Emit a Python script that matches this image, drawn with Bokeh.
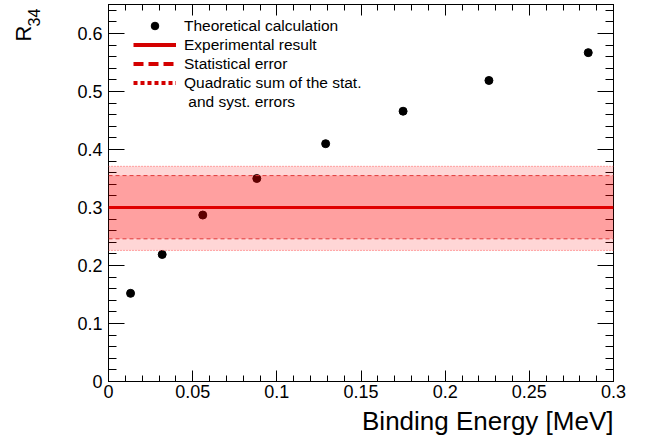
import math
from bokeh.plotting import figure
from bokeh.layouts import row
from bokeh.models import (Range1d, FixedTicker, LinearAxis, BoxAnnotation, Span, Title, Label,
                          Legend, LegendItem, CustomJSTickFormatter, ColumnDataSource)
from bokeh.embed import file_html
from bokeh.resources import INLINE

# ---- data ----
binding_energy = [0.0131, 0.0319, 0.0560, 0.0881, 0.1290, 0.1750, 0.2260, 0.2850]
r34_theory = [0.152, 0.219, 0.287, 0.350, 0.410, 0.466, 0.519, 0.567]
exp_value = 0.300
stat_low, stat_high = 0.246, 0.355
tot_low, tot_high = 0.226, 0.371
x_min, x_max = 0.0, 0.3
y_min, y_max = 0.0, 0.65
x_ticks = [0.0, 0.05, 0.10, 0.15, 0.20, 0.25, 0.30]
y_ticks = [0.0, 0.1, 0.2, 0.3, 0.4, 0.5, 0.6]
x_minor_step = 0.01
y_minor_step = 0.02

FONT = "Liberation Sans"
RED = "#d40000"

x_minor = [round(i * x_minor_step, 4) for i in range(int(round(x_max / x_minor_step)) + 1)]
y_minor = [round(i * y_minor_step, 4) for i in range(int(round(y_max / y_minor_step)) + 1)]

H = 441
LEFT_W = 45

p = figure(frame_width=505, frame_height=377,
           x_range=Range1d(x_min, x_max), y_range=Range1d(y_min, y_max),
           output_backend="svg", toolbar_location=None,
           min_border_left=108 - LEFT_W, min_border_right=40, min_border_top=4,
           min_border_bottom=H - 4 - 377)
p.grid.visible = False
p.outline_line_color = "black"
p.background_fill_color = "white"
p.border_fill_color = "white"

fmt = CustomJSTickFormatter(code="return String(Number(tick.toFixed(6)));")

def style_axis(ax, tick_in, minor_in, labels=True, standoff=5):
    ax.major_tick_in = tick_in
    ax.major_tick_out = 0
    ax.minor_tick_in = minor_in
    ax.minor_tick_out = 0
    ax.axis_line_color = "black"
    ax.major_tick_line_color = "black"
    ax.minor_tick_line_color = "black"
    ax.major_label_text_font = FONT
    if labels:
        ax.major_label_text_font_size = "18px"
        ax.major_label_text_color = "black"
        ax.major_label_standoff = standoff
        ax.formatter = fmt
    else:
        ax.major_label_text_font_size = "1px"
        ax.major_label_text_color = None
        ax.major_label_standoff = 0

xt = FixedTicker(ticks=x_ticks, minor_ticks=x_minor)
yt = FixedTicker(ticks=y_ticks, minor_ticks=y_minor)

p.xaxis.ticker = xt
p.yaxis.ticker = yt
style_axis(p.xaxis[0], 11, 6, True, 3)
style_axis(p.yaxis[0], 16, 8, True, 6)

top_ax = LinearAxis(ticker=xt)
style_axis(top_ax, 11, 6, False)
p.add_layout(top_ax, "above")
right_ax = LinearAxis(ticker=yt)
style_axis(right_ax, 16, 8, False)
p.add_layout(right_ax, "right")

# x axis title, right aligned
x_title = Title(text="Binding Energy [MeV]", align="right", text_font=FONT,
                text_font_size="26px", text_font_style="normal", text_color="black",
                standoff=6)
p.add_layout(x_title, "below")

# theory points
r_pts = p.scatter(binding_energy, r34_theory, size=8, color="black")

# error bands (drawn over points, translucent)
p.add_layout(BoxAnnotation(bottom=tot_low, top=tot_high, fill_color="red", fill_alpha=0.16,
                           line_alpha=0))
p.add_layout(BoxAnnotation(bottom=stat_low, top=stat_high, fill_color="red", fill_alpha=0.25,
                           line_alpha=0))
for v in (stat_low, stat_high):
    p.add_layout(Span(location=v, dimension="width", line_color="#e03a3a", line_width=1,
                      line_dash="4 3"))
for v in (tot_low, tot_high):
    p.add_layout(Span(location=v, dimension="width", line_color="#ff5a5a", line_width=1,
                      line_dash="1 2"))
p.add_layout(Span(location=exp_value, dimension="width", line_color="#e00000", line_width=3))

# legend-only renderers (no visible data)
nan = float("nan")
def legend_src():
    return ColumnDataSource(dict(x=[nan, nan], y=[nan, nan]))
r_exp = p.line(x="x", y="y", source=legend_src(), line_color=RED, line_width=4)
r_stat = p.line(x="x", y="y", source=legend_src(), line_color=RED, line_width=4, line_dash="10 5")
r_tot = p.line(x="x", y="y", source=legend_src(), line_color=RED, line_width=4, line_dash="4 3")
r_cont = p.line(x="x", y="y", source=legend_src(), line_color=RED, line_width=4, line_alpha=0)

legend = Legend(items=[
    LegendItem(label="Theoretical calculation", renderers=[r_pts]),
    LegendItem(label="Experimental result", renderers=[r_exp]),
    LegendItem(label="Statistical error", renderers=[r_stat]),
    LegendItem(label="Quadratic sum of the stat.", renderers=[r_tot]),
    LegendItem(label=" and syst. errors", renderers=[r_cont]),
], location=(25, 270))
legend.padding = 0
legend.margin = 0
legend.spacing = 0
legend.glyph_width = 43
legend.glyph_height = 19
legend.label_height = 19
legend.label_standoff = 8
legend.label_text_font = FONT
legend.label_text_font_size = "15.5px"
legend.label_text_color = "black"
legend.border_line_alpha = 0
legend.background_fill_alpha = 0
p.add_layout(legend, "center")

# narrow strip on the left holding the rotated y title R_34 (R with subscript 34)
side = figure(frame_width=LEFT_W, frame_height=H, x_range=Range1d(0, LEFT_W),
              y_range=Range1d(0, H), output_backend="svg", toolbar_location=None,
              x_axis_type=None, y_axis_type=None, min_border=0)
side.grid.visible = False
side.outline_line_color = None
side.background_fill_color = "white"
side.border_fill_color = "white"
side.add_layout(Label(x=23, y=H - 29, text="R", angle=math.pi / 2, text_align="center",
                      text_baseline="middle", text_font=FONT, text_font_size="22px",
                      text_color="black"))
side.add_layout(Label(x=33, y=H - 13, text="34", angle=math.pi / 2, text_align="center",
                      text_baseline="middle", text_font=FONT, text_font_size="16px",
                      text_color="black"))

layout = row(side, p)
open("out.html", "w").write(file_html(layout, INLINE))
